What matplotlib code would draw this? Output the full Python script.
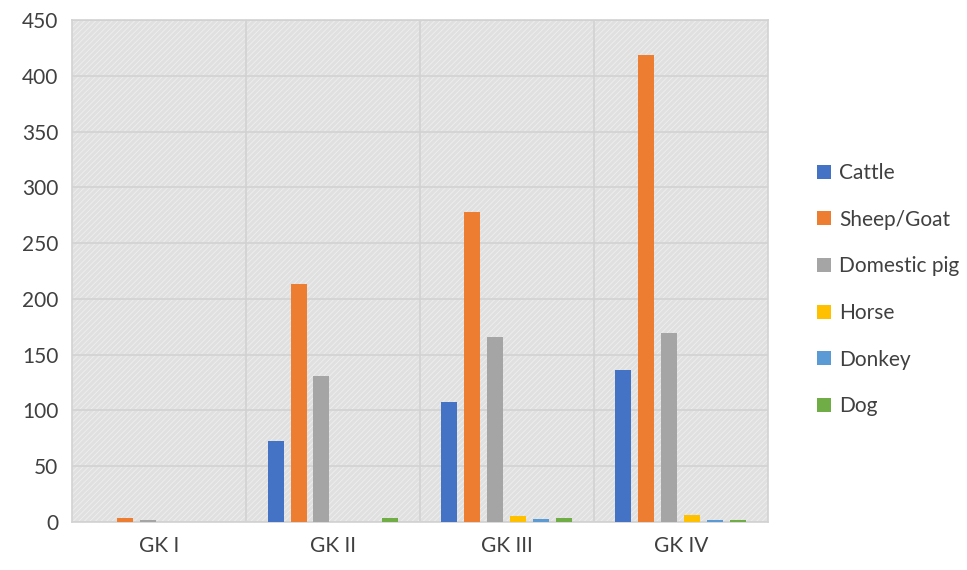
import numpy as np
import matplotlib.pyplot as plt
from matplotlib.patches import Rectangle

groups = ['GK I', 'GK II', 'GK III', 'GK IV']
series = ['Cattle', 'Sheep/Goat', 'Domestic pig', 'Horse', 'Donkey', 'Dog']
cattle = [0, 73, 108, 136]
sheep_goat = [4, 213, 278, 419]
domestic_pig = [2, 131, 166, 169]
horse = [0, 0, 5, 6]
donkey = [0, 0, 3, 2]
dog = [0, 4, 4, 2]
values = [cattle, sheep_goat, domestic_pig, horse, donkey, dog]
colors = ['#4472c4', '#ed7d31', '#a5a5a5', '#ffc000', '#5b9bd5', '#70ad47']

plt.rcParams['font.family'] = ['Lato', 'DejaVu Sans']
plt.rcParams['hatch.linewidth'] = 0.6

fig = plt.figure(figsize=(9.67, 5.70), dpi=100)
ax = fig.add_axes([0.0745, 0.0842, 0.7195, 0.8808])

ax.set_facecolor('#e0e0e0')
# hatched background like the original pattern fill
ax.add_patch(Rectangle((0, 0), 1, 1, transform=ax.transAxes, facecolor='none',
                       edgecolor='#efefef', hatch='//////', linewidth=0, zorder=0))

x = np.arange(len(groups))
step = 0.132
width = 0.092
for i, (name, vals) in enumerate(zip(series, values)):
    ax.bar(x + (i - 2.5) * step, vals, width, color=colors[i], label=name, zorder=3)

ax.set_xlim(-0.5, 3.5)
ax.set_ylim(0, 450)
ax.set_yticks(range(0, 451, 50))
ax.set_xticks(x)
ax.set_xticklabels(groups)
ax.set_xticks([0.5, 1.5, 2.5], minor=True)
ax.grid(axis='y', color='#d2d2d2', linewidth=1.2, zorder=1)
ax.grid(axis='x', which='minor', color='#d2d2d2', linewidth=1.2, zorder=1)
ax.tick_params(axis='both', which='both', length=0, labelsize=15, colors='#404040', pad=10)
ax.tick_params(axis='y', pad=10)
for s in ax.spines.values():
    s.set_color('#d2d2d2')
    s.set_linewidth(1.2)

fig.legend(loc='center left', bbox_to_anchor=(0.826, 0.492), frameon=False,
           fontsize=15, labelspacing=1.28, handlelength=0.65, handleheight=0.65,
           handletextpad=0.4, labelcolor='#404040')

fig.savefig('out.png', dpi=100)
